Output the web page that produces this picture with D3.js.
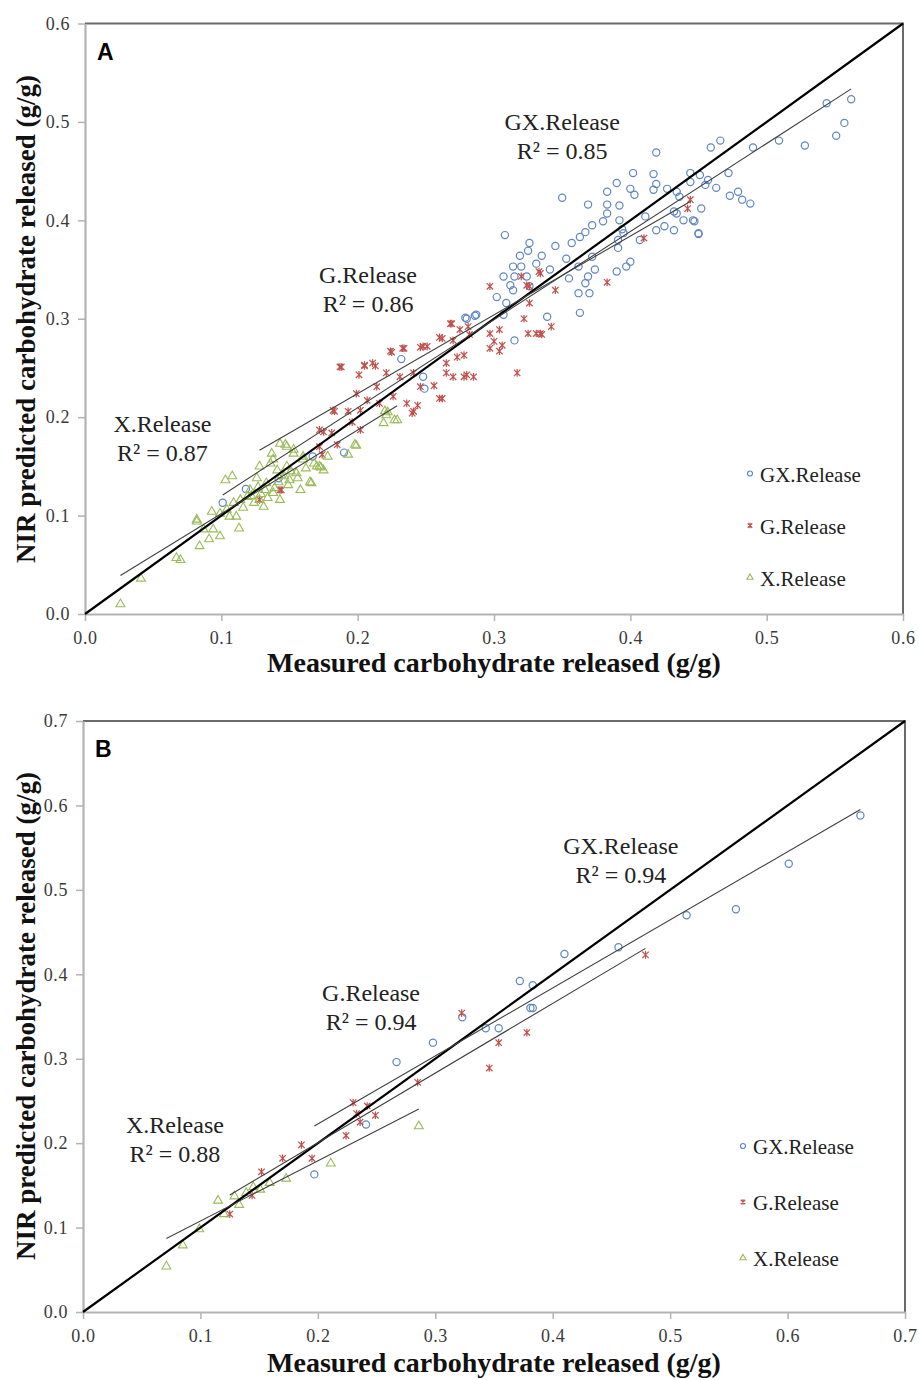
<!DOCTYPE html>
<html>
<head>
<meta charset="utf-8">
<script src="https://cdn.jsdelivr.net/npm/d3@7"></script>
<style>
  body { margin: 0; background: #fff; }
  svg text { font-family: "Times New Roman", "Liberation Serif", serif; }
</style>
</head>
<body>
<svg id="chart" width="919" height="1380"></svg>
<script>
// ---- data ----
const seriesNames = ["GX.Release", "G.Release", "X.Release"]

const gxA = [[0.101,0.113],[0.118,0.127],[0.142,0.138],[0.167,0.160],[0.190,0.164],[0.232,0.259],[0.248,0.241],[0.249,0.229],[0.279,0.301],[0.286,0.303],[0.280,0.300],[0.287,0.304],[0.302,0.322],[0.307,0.343],[0.309,0.316],[0.307,0.304],[0.308,0.385],[0.312,0.334],[0.314,0.353],[0.314,0.329],[0.315,0.343],[0.315,0.278],[0.319,0.364],[0.320,0.353],[0.324,0.343],[0.325,0.369],[0.326,0.377],[0.326,0.333],[0.331,0.356],[0.335,0.364],[0.339,0.302],[0.341,0.350],[0.345,0.374],[0.350,0.423],[0.353,0.361],[0.355,0.341],[0.357,0.377],[0.362,0.353],[0.362,0.326],[0.363,0.383],[0.363,0.306],[0.367,0.388],[0.367,0.336],[0.369,0.416],[0.369,0.343],[0.370,0.326],[0.372,0.395],[0.372,0.363],[0.374,0.350],[0.380,0.399],[0.383,0.429],[0.383,0.416],[0.383,0.407],[0.390,0.438],[0.390,0.348],[0.391,0.380],[0.391,0.372],[0.392,0.415],[0.392,0.400],[0.394,0.391],[0.395,0.387],[0.397,0.353],[0.400,0.432],[0.400,0.358],[0.402,0.448],[0.403,0.426],[0.407,0.380],[0.411,0.404],[0.417,0.447],[0.417,0.431],[0.419,0.469],[0.419,0.437],[0.419,0.390],[0.425,0.394],[0.427,0.432],[0.432,0.390],[0.432,0.409],[0.434,0.429],[0.434,0.407],[0.436,0.424],[0.439,0.400],[0.444,0.448],[0.444,0.439],[0.446,0.400],[0.447,0.399],[0.450,0.386],[0.450,0.387],[0.451,0.446],[0.452,0.412],[0.455,0.436],[0.457,0.441],[0.459,0.474],[0.463,0.433],[0.466,0.481],[0.472,0.448],[0.473,0.425],[0.479,0.429],[0.482,0.421],[0.488,0.417],[0.490,0.474],[0.509,0.481],[0.528,0.476],[0.544,0.519],[0.551,0.486],[0.557,0.499],[0.562,0.523]]

const gA = [[0.128,0.116],[0.143,0.126],[0.144,0.126],[0.172,0.170],[0.172,0.187],[0.174,0.162],[0.175,0.185],[0.181,0.184],[0.182,0.207],[0.183,0.206],[0.185,0.172],[0.187,0.251],[0.188,0.251],[0.193,0.206],[0.196,0.195],[0.199,0.224],[0.201,0.243],[0.202,0.187],[0.202,0.207],[0.205,0.253],[0.205,0.252],[0.207,0.217],[0.211,0.255],[0.213,0.252],[0.214,0.231],[0.216,0.214],[0.221,0.245],[0.224,0.267],[0.225,0.266],[0.226,0.221],[0.231,0.241],[0.233,0.270],[0.234,0.270],[0.236,0.214],[0.240,0.204],[0.241,0.245],[0.241,0.206],[0.244,0.212],[0.246,0.231],[0.246,0.271],[0.248,0.272],[0.251,0.272],[0.256,0.232],[0.260,0.219],[0.260,0.281],[0.262,0.219],[0.262,0.280],[0.265,0.245],[0.265,0.255],[0.268,0.295],[0.269,0.295],[0.270,0.278],[0.270,0.241],[0.273,0.261],[0.275,0.289],[0.278,0.241],[0.278,0.263],[0.280,0.243],[0.281,0.292],[0.282,0.284],[0.285,0.241],[0.297,0.333],[0.297,0.285],[0.297,0.270],[0.300,0.277],[0.304,0.289],[0.304,0.267],[0.306,0.273],[0.317,0.245],[0.320,0.343],[0.322,0.300],[0.324,0.334],[0.325,0.285],[0.326,0.333],[0.326,0.316],[0.331,0.285],[0.333,0.348],[0.334,0.346],[0.334,0.285],[0.335,0.284],[0.342,0.292],[0.345,0.329],[0.383,0.337],[0.410,0.382],[0.442,0.412],[0.444,0.421]]

const xA = [[0.026,0.010],[0.041,0.036],[0.067,0.057],[0.070,0.055],[0.082,0.096],[0.082,0.094],[0.084,0.069],[0.087,0.086],[0.091,0.076],[0.093,0.104],[0.094,0.086],[0.099,0.079],[0.099,0.102],[0.103,0.136],[0.104,0.106],[0.106,0.099],[0.108,0.140],[0.109,0.113],[0.111,0.099],[0.113,0.087],[0.114,0.116],[0.116,0.108],[0.119,0.119],[0.121,0.126],[0.122,0.120],[0.124,0.113],[0.126,0.138],[0.127,0.129],[0.128,0.150],[0.128,0.116],[0.129,0.122],[0.131,0.109],[0.132,0.126],[0.133,0.133],[0.134,0.118],[0.136,0.153],[0.137,0.163],[0.138,0.123],[0.138,0.157],[0.139,0.128],[0.141,0.146],[0.142,0.134],[0.143,0.116],[0.143,0.173],[0.144,0.141],[0.146,0.140],[0.147,0.172],[0.148,0.150],[0.148,0.170],[0.149,0.131],[0.150,0.136],[0.151,0.145],[0.153,0.163],[0.153,0.167],[0.155,0.143],[0.156,0.138],[0.158,0.126],[0.160,0.157],[0.160,0.160],[0.162,0.148],[0.165,0.134],[0.166,0.133],[0.168,0.153],[0.170,0.150],[0.172,0.150],[0.173,0.149],[0.175,0.146],[0.178,0.160],[0.193,0.162],[0.198,0.172],[0.199,0.171],[0.219,0.194],[0.220,0.206],[0.221,0.202],[0.222,0.205],[0.227,0.197],[0.229,0.197]]

const gxB = [[0.197,0.163],[0.241,0.222],[0.267,0.296],[0.298,0.319],[0.323,0.349],[0.343,0.336],[0.354,0.336],[0.372,0.392],[0.381,0.360],[0.383,0.360],[0.383,0.387],[0.410,0.424],[0.456,0.432],[0.514,0.470],[0.556,0.477],[0.601,0.531],[0.662,0.588]]
const gB = [[0.125,0.116],[0.144,0.138],[0.152,0.166],[0.170,0.182],[0.186,0.198],[0.195,0.182],[0.224,0.209],[0.230,0.248],[0.233,0.235],[0.236,0.225],[0.242,0.244],[0.249,0.233],[0.285,0.272],[0.3225,0.354],[0.346,0.289],[0.354,0.319],[0.378,0.331],[0.479,0.423]]
const xB = [[0.071,0.054],[0.085,0.079],[0.099,0.098],[0.115,0.132],[0.120,0.116],[0.129,0.137],[0.133,0.127],[0.139,0.141],[0.145,0.148],[0.151,0.145],[0.159,0.153],[0.173,0.158],[0.211,0.176],[0.286,0.220]]

// trend lines as read: [slope, intercept], drawn over each series' x extent
const fitA = [[0.895,0.0306],[0.80,0.064],[0.85,0.017]]
const fitB = [[0.806,0.0615],[0.825,0.0355],[0.713,0.0365]]
const r2A = ["0.85","0.86","0.87"]
const r2B = ["0.94","0.94","0.88"]
// label anchors (data units)
const labelPosA = [[0.35,0.492],[0.2076,0.336],[0.0568,0.1852]]
const labelPosB = [[0.458,0.5425],[0.2453,0.3684],[0.0783,0.212]]

const ticksA = [0,0.1,0.2,0.3,0.4,0.5,0.6]
const ticksB = [0,0.1,0.2,0.3,0.4,0.5,0.6,0.7]

const colors = ["#5f86c4","#c0504d","#9bbb59"]
const xTitle = "Measured carbohydrate released (g/g)"
const yTitle = "NIR predicted carbohydrate released (g/g)"

const panels = [
  {tag:"A", max:0.6, ticks:ticksA, series:[gxA,gA,xA], fit:fitA, r2:r2A, lab:labelPosA,
   left:85, right:903, top:23.5, bottom:614, legX:665, legY:450, legGap:52, xTitleY:672, yTitleC:319},
  {tag:"B", max:0.7, ticks:ticksB, series:[gxB,gB,xB], fit:fitB, r2:r2B, lab:labelPosB,
   left:83, right:905, top:721, bottom:1312, legX:660, legY:425, legGap:56, xTitleY:1372, yTitleC:1016}
]

const svg = d3.select("#chart")

function marker(g, i, size){
  if(i==0){
    g.append("circle").attr("r",size*3.6).attr("fill","none")
      .attr("stroke",colors[0]).attr("stroke-width",1.2)
  } else if(i==1){
    var s = size*3.2
    g.append("path")
      .attr("d",`M${-s},${-s}L${s},${s}M${-s},${s}L${s},${-s}M0,${-s*1.2}L0,${s*1.2}`)
      .attr("stroke",colors[1]).attr("stroke-width",1.2).attr("fill","none")
  } else {
    g.append("path").attr("d",d3.symbol(d3.symbolTriangle, 34*size*size)())
      .attr("fill","none").attr("stroke",colors[2]).attr("stroke-width",1.1)
  }
}

panels.forEach(p => {
  var x = d3.scaleLinear().domain([0,p.max]).range([p.left,p.right])
  var y = d3.scaleLinear().domain([0,p.max]).range([p.bottom,p.top])

  // frame: dark top/right
  svg.append("path")
    .attr("d",`M${p.left},${p.top}H${p.right}V${p.bottom}`)
    .attr("fill","none").attr("stroke","#6a6a6a").attr("stroke-width",2)

  var xAxis = svg.append("g").attr("transform",`translate(0,${p.bottom})`)
    .call(d3.axisBottom(x).tickValues(p.ticks).tickFormat(d3.format(".1f")).tickSize(7).tickSizeOuter(0).tickPadding(10))
  var yAxis = svg.append("g").attr("transform",`translate(${p.left},0)`)
    .call(d3.axisLeft(y).tickValues(p.ticks).tickFormat(d3.format(".1f")).tickSize(7).tickSizeOuter(0).tickPadding(8))
  ;[xAxis,yAxis].forEach(a => {
    a.attr("font-size",null).attr("font-family",null)
    a.select(".domain").attr("stroke","#b3b3b3").attr("stroke-width",2.2)
    a.selectAll(".tick line").attr("stroke","#b3b3b3").attr("stroke-width",1.5)
    a.selectAll(".tick text").attr("fill","#3a3a3a").style("font-size","18px")
      .style("letter-spacing","0.6px")
      .style("font-family",'"Times New Roman","Liberation Serif",serif')
  })

  // points
  p.series.forEach((pts,i) => {
    pts.forEach(d => {
      var g = svg.append("g").attr("transform",`translate(${x(d[0])},${y(d[1])})`)
      marker(g,i,1)
    })
  })

  // 1:1 line
  svg.append("line")
    .attr("x1",x(0)).attr("y1",y(0)).attr("x2",x(p.max)).attr("y2",y(p.max))
    .attr("stroke","#000").attr("stroke-width",2.2)

  // trend lines
  p.series.forEach((pts,i) => {
    var ext = d3.extent(pts, d => d[0])
    var f = p.fit[i]
    svg.append("line")
      .attr("x1",x(ext[0])).attr("y1",y(f[0]*ext[0]+f[1]))
      .attr("x2",x(ext[1])).attr("y2",y(f[0]*ext[1]+f[1]))
      .attr("stroke","#404040").attr("stroke-width",1.1)
  })

  // annotations
  p.lab.forEach((l,i) => {
    var t = svg.append("text").attr("x",x(l[0])).attr("y",y(l[1]))
      .attr("text-anchor","middle").style("font-size","24px").attr("fill","#222")
    t.append("tspan").attr("x",x(l[0])).text(seriesNames[i])
    t.append("tspan").attr("x",x(l[0])).attr("dy",29).text("R\u00b2 = " + p.r2[i])
  })

  // legend
  seriesNames.forEach((n,i) => {
    var ly = p.top + p.legY + i*p.legGap
    var g = svg.append("g").attr("transform",`translate(${p.left+p.legX},${ly})`)
    marker(g,i,0.7)
    svg.append("text").attr("x",p.left+p.legX+10).attr("y",ly+8)
      .style("font-size","21px").attr("fill","#222").text(n)
  })

  // panel tag
  svg.append("text").attr("x",p.left+12).attr("y",p.top+36)
    .style("font-family",'Arial,"Liberation Sans",sans-serif')
    .style("font-weight","bold").style("font-size","23px").text(p.tag)

  // axis titles
  svg.append("text").attr("x",494).attr("y",p.xTitleY).attr("text-anchor","middle")
    .style("font-weight","bold").style("font-size","28px").attr("fill","#111").text(xTitle)
  svg.append("text").attr("transform",`translate(35,${p.yTitleC}) rotate(-90)`)
    .attr("text-anchor","middle")
    .style("font-weight","bold").style("font-size","27px").attr("fill","#111").text(yTitle)
})
</script>
</body>
</html>
